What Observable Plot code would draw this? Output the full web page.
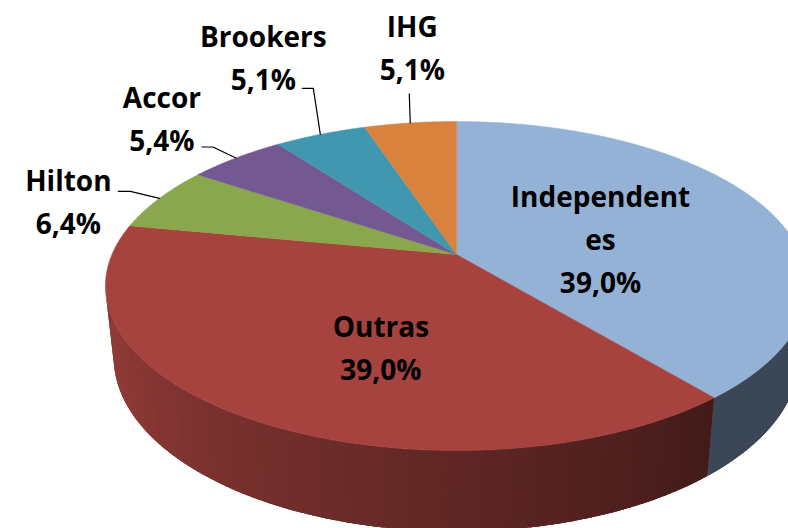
<!DOCTYPE html>
<html><head><meta charset="utf-8">
<script src="https://cdn.jsdelivr.net/npm/d3@7"></script>
<script src="https://cdn.jsdelivr.net/npm/@observablehq/plot@0.6"></script>
<style>body{margin:0;background:#fff}</style>
</head><body><div id="chart"></div>
<script>
// ---- data ----
const categories = ["Independentes", "Outras", "Hilton", "Accor", "Brookers", "IHG"];
const shares = [39.0, 39.0, 6.4, 5.4, 5.1, 5.1];
const labelTexts = ["Independent\nes\n39,0%", "Outras\n39,0%", "Hilton\n6,4%", "Accor\n5,4%", "Brookers\n5,1%", "IHG\n5,1%"];
const sliceColors = ["#94B2D6", "#A6433F", "#8AA74E", "#735891", "#4197AF", "#D9823E"];

// ---- layout (3D perspective pie) ----
const W = 788, H = 528;
const cx = 456, cy = 254;        // projected pie centre
const tilt = Math.asin(0.46);    // camera elevation
const dist = 4.635;              // camera distance (radius = 1)
const focal = 1597;              // focal length in px
const thick = 0.235;             // pie thickness (radius units)
const s = Math.sin(tilt), c = Math.cos(tilt);
// label placement: inside labels at radius 0.5 + offset, outside labels from rim + offset
const labelLayout = [
  {inside: true, dx: -13, dy: 8},
  {inside: true, dx: 20, dy: 16},
  {inside: false, dx: -91, dy: 0, leader: [[-29, -7], [-41, -7]]},
  {inside: false, dx: -74, dy: -42, leader: [[-23, -11], [-34, -11]]},
  {inside: false, dx: -57, dy: -80, leader: [[-7, -46], [-18, -46]]},
  {inside: false, dx: 2, dy: -78, leader: [[-1, -29]]}
];

function project(theta, r, h) {
  const u = r * Math.sin(theta), v = r * Math.cos(theta);
  const depth = v * c - h * s + dist;
  const up = v * s + h * c;
  return [cx + focal * u / depth, cy - focal * up / depth];
}

const total = d3.sum(shares);
let acc = 0;
const slices = categories.map((name, i) => {
  const a0 = acc / total * 2 * Math.PI;
  acc += shares[i];
  const a1 = acc / total * 2 * Math.PI;
  return {name, i, a0, a1, color: sliceColors[i]};
});

// top faces
const topRows = [];
for (const sl of slices) {
  topRows.push({key: sl.name, x: cx, y: cy, fill: sl.color});
  const n = Math.max(4, Math.ceil((sl.a1 - sl.a0) / (Math.PI / 360)));
  for (let j = 0; j <= n; j++) {
    const t = sl.a0 + (sl.a1 - sl.a0) * j / n;
    const [x, y] = project(t, 1, 0);
    topRows.push({key: sl.name, x, y, fill: sl.color});
  }
}

// visible outer wall
const visLo = Math.acos(-1 / (dist * c));
const visHi = 2 * Math.PI - visLo;
function shade(color, thetaDeg) {
  const f = Math.max(0.40, Math.min(0.88, 0.42 + 0.0044 * (thetaDeg - 145)));
  const q = d3.rgb(color);
  return d3.rgb(q.r * f, q.g * f, q.b * f).formatHex();
}
const baseRows = [], sideRows = [];
let strip = 0;
for (const sl of slices) {
  const lo = Math.max(sl.a0, visLo), hi = Math.min(sl.a1, visHi);
  if (hi <= lo) continue;
  const n = Math.max(1, Math.ceil((hi - lo) / (Math.PI / 180)));
  // solid underlay for the whole wall of this slice
  const baseFill = shade(sl.color, (lo + hi) / 2 * 180 / Math.PI);
  for (let j = 0; j <= n; j++) {
    const [x, y] = project(lo + (hi - lo) * j / n, 1, 0);
    baseRows.push({key: sl.name, x, y, fill: baseFill});
  }
  for (let j = n; j >= 0; j--) {
    const [x, y] = project(lo + (hi - lo) * j / n, 1, -thick);
    baseRows.push({key: sl.name, x, y, fill: baseFill});
  }
  const step = (hi - lo) / n;
  for (let j = 0; j < n; j++) {
    const t0 = lo + step * j, t1 = Math.min(hi, t0 + step * 1.6);
    const fill = shade(sl.color, (t0 + step / 2) * 180 / Math.PI);
    const key = "s" + (strip++);
    for (const [t, h] of [[t0, 0], [t1, 0], [t1, -thick], [t0, -thick]]) {
      const [x, y] = project(t, 1, h);
      sideRows.push({key, x, y, fill});
    }
  }
}

// labels + leader lines
const labelRows = [], leaderRows = [];
slices.forEach((sl, i) => {
  const L = labelLayout[i];
  const mid = (sl.a0 + sl.a1) / 2;
  const [ax, ay] = project(mid, L.inside ? 0.5 : 1, 0);
  labelRows.push({x: ax + L.dx, y: ay + L.dy, text: labelTexts[i]});
  if (L.leader) {
    leaderRows.push({key: sl.name, x: ax, y: ay});
    for (const [px, py] of L.leader) leaderRows.push({key: sl.name, x: ax + px, y: ay + py});
  }
});

const chart = Plot.plot({
  width: W, height: H, margin: 0,
  x: {domain: [0, W], range: [0, W], axis: null},
  y: {domain: [0, H], range: [0, H], axis: null},
  color: {type: "identity"},
  style: {background: "#ffffff", fontFamily: "'Open Sans', Lato, sans-serif"},
  marks: [
    Plot.line(baseRows, {x: "x", y: "y", z: "key", fill: "fill", curve: "linear-closed"}),
    Plot.line(sideRows, {x: "x", y: "y", z: "key", fill: "fill", curve: "linear-closed"}),
    Plot.line(topRows, {x: "x", y: "y", z: "key", fill: "fill", stroke: "fill", strokeWidth: 0.5, curve: "linear-closed"}),
    Plot.line(leaderRows, {x: "x", y: "y", z: "key", stroke: "#000000", strokeWidth: 1.2}),
    Plot.text(labelRows, {x: "x", y: "y", text: "text", fontSize: 28, fontWeight: "bold", lineHeight: 1.536, fill: "#000000"})
  ]
});
document.getElementById("chart").appendChild(chart);
</script>
</body></html>
